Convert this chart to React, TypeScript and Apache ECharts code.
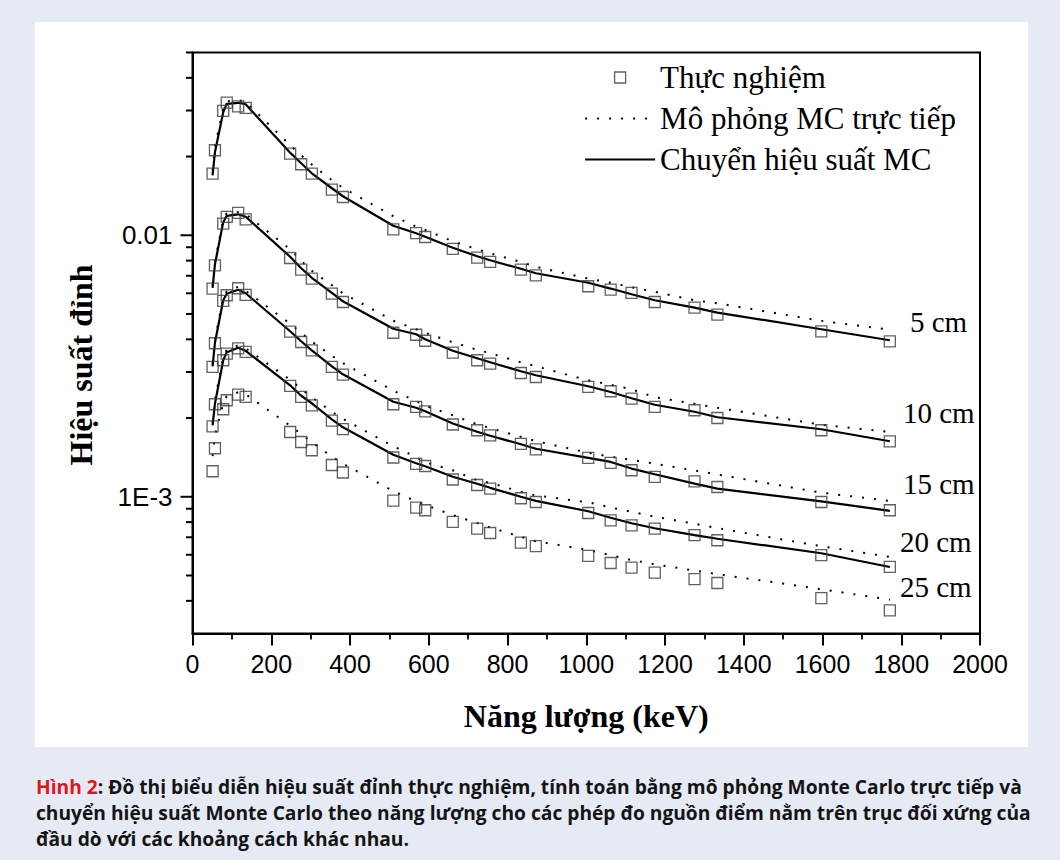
import React, { useEffect, useRef } from 'react';
import * as echarts from 'echarts';

// Energy of each measured peak (keV)
const energies = [51, 57, 78, 87, 116, 135, 248, 276, 303, 354, 382, 510, 568, 591, 661, 723, 756, 834, 872, 1005, 1062, 1115, 1174, 1275, 1333, 1597, 1771];

// 5 cm
const exp5 = [0.01722, 0.02114, 0.02988, 0.03217, 0.03114, 0.03068, 0.02053, 0.01869, 0.01722, 0.01495, 0.01401, 0.01054, 0.0102, 0.009851, 0.008864, 0.008217, 0.007905, 0.007393, 0.007031, 0.006383, 0.0062, 0.006017, 0.005558, 0.005291, 0.004975, 0.004294, 0.003932];
const transfer5 = [0.01696, 0.02077, 0.02954, 0.03183, 0.03211, 0.03169, 0.02068, 0.01885, 0.01726, 0.01513, 0.0141, 0.01087, 0.01018, 0.009869, 0.008958, 0.008312, 0.008024, 0.007445, 0.007156, 0.006583, 0.006255, 0.005949, 0.005642, 0.005291, 0.005063, 0.004371, 0.003967];
const direct5 = [0.01772, 0.0219, 0.0306, 0.03254, 0.03283, 0.0324, 0.02209, 0.02023, 0.01865, 0.01624, 0.01518, 0.01183, 0.0108, 0.01048, 0.009486, 0.008841, 0.008535, 0.007905, 0.007578, 0.00683, 0.006583, 0.006327, 0.006076, 0.005642, 0.005495, 0.004706, 0.004359];

// 10 cm
const exp10 = [0.006255, 0.007678, 0.01108, 0.01175, 0.01217, 0.01151, 0.008188, 0.007393, 0.00683, 0.005985, 0.005558, 0.004238, 0.004164, 0.00395, 0.00356, 0.003327, 0.003231, 0.002974, 0.002871, 0.00263, 0.002532, 0.002374, 0.002205, 0.002142, 0.002001, 0.001796, 0.00163];
const transfer10 = [0.006299, 0.007746, 0.01121, 0.01187, 0.01203, 0.01177, 0.008275, 0.007478, 0.006878, 0.006027, 0.005592, 0.00439, 0.004182, 0.004002, 0.003617, 0.003385, 0.003268, 0.003019, 0.002915, 0.002646, 0.002516, 0.002381, 0.002248, 0.002114, 0.002014, 0.001812, 0.00163];
const direct10 = [0.006439, 0.007953, 0.01151, 0.01214, 0.01225, 0.01203, 0.008841, 0.007988, 0.007315, 0.006439, 0.006001, 0.00471, 0.004371, 0.004238, 0.003898, 0.003649, 0.003538, 0.003268, 0.003155, 0.002789, 0.002681, 0.002577, 0.002402, 0.002268, 0.00219, 0.001885, 0.001769];

// 15 cm
const exp15 = [0.003136, 0.003864, 0.005617, 0.005896, 0.006271, 0.005912, 0.004283, 0.003908, 0.003632, 0.003136, 0.002932, 0.002258, 0.002205, 0.00212, 0.00189, 0.001796, 0.001718, 0.001592, 0.001519, 0.001408, 0.001347, 0.001263, 0.001191, 0.001146, 0.00109, 0.000955, 0.000888];
const transfer15 = [0.003155, 0.003881, 0.005642, 0.005975, 0.006189, 0.006001, 0.004294, 0.003932, 0.003632, 0.003155, 0.00294, 0.002309, 0.00219, 0.002123, 0.001905, 0.001772, 0.001711, 0.001588, 0.001526, 0.001408, 0.001359, 0.001282, 0.001219, 0.001123, 0.001075, 0.000961, 0.000883];
const direct15 = [0.00324, 0.004002, 0.005793, 0.006108, 0.006355, 0.006135, 0.004588, 0.004238, 0.003922, 0.003461, 0.003245, 0.002543, 0.002323, 0.002229, 0.002049, 0.001893, 0.001831, 0.001695, 0.001633, 0.001474, 0.001423, 0.001383, 0.001338, 0.00126, 0.001217, 0.001037, 0.000964];

// 20 cm
const exp20 = [0.00186, 0.002258, 0.003327, 0.003528, 0.003697, 0.003579, 0.002657, 0.002408, 0.002235, 0.001956, 0.001815, 0.001413, 0.001335, 0.001311, 0.001164, 0.001109, 0.001075, 0.000987, 0.000955, 0.000867, 0.000813, 0.000778, 0.000756, 0.000713, 0.000682, 0.000598, 0.000539];
const transfer20 = [0.001877, 0.002268, 0.003327, 0.003569, 0.003713, 0.003617, 0.002669, 0.002434, 0.002278, 0.001978, 0.001844, 0.001448, 0.001344, 0.001308, 0.001193, 0.001121, 0.001082, 0.001, 0.000965, 0.00088, 0.000831, 0.000792, 0.000758, 0.000713, 0.000691, 0.000608, 0.000539];
const direct20 = [0.001927, 0.002339, 0.00343, 0.003649, 0.003796, 0.003697, 0.002801, 0.002588, 0.002402, 0.002114, 0.001987, 0.00156, 0.001419, 0.001355, 0.001263, 0.001156, 0.001131, 0.001045, 0.001011, 0.000953, 0.00091, 0.000876, 0.000839, 0.000789, 0.000759, 0.000647, 0.000589];

// 25 cm
const exp25 = [0.001252, 0.001533, 0.002161, 0.002339, 0.002459, 0.002408, 0.001769, 0.00162, 0.001506, 0.001323, 0.001238, 0.000967, 0.000909, 0.000888, 0.000801, 0.000756, 0.000727, 0.000668, 0.000648, 0.000594, 0.000558, 0.000536, 0.000513, 0.000484, 0.000468, 0.00041, 0.000368];
const direct25 = [0.001429, 0.001718, 0.002278, 0.002423, 0.00251, 0.002466, 0.00187, 0.001737, 0.001619, 0.001423, 0.00134, 0.001052, 0.000959, 0.00093, 0.000851, 0.000793, 0.000763, 0.000703, 0.000676, 0.000626, 0.000598, 0.000573, 0.000552, 0.000522, 0.000506, 0.000443, 0.000404];

const distanceLabels = ['5 cm', '10 cm', '15 cm', '20 cm', '25 cm'];
const yMajorTicks = [0.001, 0.01];
const yMinorTicks = [0.0004, 0.0005, 0.0006, 0.0007, 0.0008, 0.0009, 0.002, 0.003, 0.004, 0.005, 0.006, 0.007, 0.008, 0.009, 0.02, 0.03, 0.04, 0.05];

const EXP = 'Thực nghiệm';
const DIRECT = 'Mô phỏng MC trực tiếp';
const TRANSFER = 'Chuyển hiệu suất MC';

const groups = [
  { exp: exp5, direct: direct5, transfer: transfer5 },
  { exp: exp10, direct: direct10, transfer: transfer10 },
  { exp: exp15, direct: direct15, transfer: transfer15 },
  { exp: exp20, direct: direct20, transfer: transfer20 },
  { exp: exp25, direct: direct25, transfer: null as number[] | null },
];

const labelPos = [
  { x: 910, y: 322 },
  { x: 903, y: 413 },
  { x: 903, y: 484 },
  { x: 900, y: 542 },
  { x: 900, y: 587 },
];

const SERIF = 'Liberation Serif, Times New Roman, serif';
const SANS = 'Liberation Sans, Arial, sans-serif';
const CAPTION_FONT = 'Open Sans, Noto Sans, sans-serif';

export default function App() {
  const ref = useRef<HTMLDivElement>(null);

  useEffect(() => {
    const chart = echarts.init(ref.current!, null, { renderer: 'svg' });
    const pairs = (arr: number[]) => energies.map((e, i) => [e, arr[i]]);

    const series: any[] = [];
    groups.forEach((g, gi) => {
      series.push({
        type: 'line', name: DIRECT, id: 'direct' + gi, data: pairs(g.direct),
        symbol: 'none', silent: true, z: 2,
        itemStyle: { color: '#000' },
        lineStyle: { color: '#000', width: 2, type: [2, 10], cap: 'butt' },
      });
      if (g.transfer) {
        series.push({
          type: 'line', name: TRANSFER, id: 'transfer' + gi, data: pairs(g.transfer),
          symbol: 'none', silent: true, z: 2,
          itemStyle: { color: '#000' },
          lineStyle: { color: '#000', width: 2.2 },
        });
      }
      series.push({
        type: 'scatter', name: EXP, id: 'exp' + gi, data: pairs(g.exp),
        symbol: 'rect', symbolSize: 11, silent: true, z: 3,
        itemStyle: { color: 'rgba(0,0,0,0)', borderColor: '#3a3a3a', borderWidth: 1.3 },
      });
    });

    const hiddenSymbol = { color: 'rgba(0,0,0,0)', borderColor: 'rgba(0,0,0,0)', borderWidth: 0, opacity: 0 };

    const option: any = {
      animation: false,
      backgroundColor: '#e6eaf5',
      grid: { left: 192.5, right: 80, top: 52.5, bottom: 226.5, show: true, borderColor: '#000', borderWidth: 2, backgroundColor: 'rgba(0,0,0,0)' },
      xAxis: {
        type: 'value', min: 0, max: 2000, interval: 200,
        axisLine: { lineStyle: { color: '#000', width: 2 } },
        axisTick: { length: 12, lineStyle: { color: '#000', width: 2 } },
        minorTick: { show: true, splitNumber: 2, length: 6, lineStyle: { color: '#000', width: 1.8 } },
        splitLine: { show: false },
        axisLabel: { fontSize: 25, fontFamily: SANS, color: '#000', margin: 18, formatter: (v: number) => String(v) },
        name: 'Năng lượng (keV)', nameLocation: 'middle', nameGap: 66,
        nameTextStyle: { fontFamily: SERIF, fontWeight: 'bold', fontSize: 32, color: '#000' },
      },
      yAxis: {
        type: 'log', logBase: 10, min: 0.0003, max: 0.05,
        axisLine: { show: true, lineStyle: { color: '#000', width: 2 } },
        axisTick: { show: false },
        splitLine: { show: false },
        axisLabel: {
          fontSize: 26, fontFamily: SANS, color: '#000', margin: 20,
          formatter: (v: number) => {
            const l = Math.log10(v);
            if (Math.abs(l + 2) < 0.01) return '0.01';
            if (Math.abs(l + 3) < 0.01) return '1E-3';
            return '';
          },
        },
      },
      legend: {
        orient: 'vertical', left: 584, top: 62, padding: 0, itemWidth: 70, itemHeight: 11, itemGap: 10,
        selectedMode: false,
        textStyle: { fontFamily: SERIF, fontSize: 31, color: '#000', lineHeight: 30 },
        data: [
          { name: EXP, icon: 'path://M0,0L10,0L10,10L0,10Z', itemStyle: { color: 'rgba(0,0,0,0)', borderColor: '#3a3a3a', borderWidth: 1.3 } },
          { name: DIRECT, itemStyle: hiddenSymbol, lineStyle: { type: [2, 10], width: 2, color: '#000' } },
          { name: TRANSFER, itemStyle: hiddenSymbol, lineStyle: { type: 'solid', width: 2.2, color: '#000' } },
        ],
      },
      series,
    };

    chart.setOption(option);

    const graphic: any[] = [];
    graphic.push({
      type: 'rect', id: 'panel', z: -100, silent: true,
      shape: { x: 35, y: 22, width: 993, height: 725 },
      style: { fill: '#ffffff' },
    });

    // y axis ticks (log scale) positioned through the axis
    const tick = (v: number, len: number, id: string) => {
      const p = chart.convertToPixel({ xAxisIndex: 0, yAxisIndex: 0 }, [0, v]) as number[];
      graphic.push({
        type: 'line', id, silent: true, z: 5,
        shape: { x1: p[0] - len, y1: p[1], x2: p[0], y2: p[1] },
        style: { stroke: '#000', lineWidth: 2 },
      });
    };
    yMajorTicks.forEach((v, i) => tick(v, 12, 'maj' + i));
    yMinorTicks.forEach((v, i) => tick(v, 6.5, 'min' + i));

    // y axis title
    graphic.push({
      type: 'text', id: 'ytitle', x: 81, y: 365, rotation: Math.PI / 2, silent: true,
      style: { text: 'Hiệu suất đỉnh', fill: '#000', fontSize: 32, fontFamily: SERIF, fontWeight: 'bold', align: 'center', verticalAlign: 'middle' },
    });

    // distance labels
    distanceLabels.forEach((t, i) => {
      graphic.push({
        type: 'text', id: 'dl' + i, x: labelPos[i].x, y: labelPos[i].y, silent: true, z: 6,
        style: { text: t, fill: '#000', fontSize: 29, fontFamily: SERIF, align: 'left', verticalAlign: 'middle' },
      });
    });

    // caption
    const capLines = [
      '{r|Hình 2}: Đồ thị biểu diễn hiệu suất đỉnh thực nghiệm, tính toán bằng mô phỏng Monte Carlo trực tiếp và',
      'chuyển hiệu suất Monte Carlo theo năng lượng cho các phép đo nguồn điểm nằm trên trục đối xứng của',
      'đầu dò với các khoảng cách khác nhau.',
    ];
    capLines.forEach((t, i) => {
      graphic.push({
        type: 'text', id: 'cap' + i, x: 36, y: 786 + i * 26, scaleX: 0.96, silent: true,
        style: {
          text: t, fill: '#141414', fontSize: 20, fontFamily: CAPTION_FONT, fontWeight: 'bold',
          align: 'left', verticalAlign: 'middle',
          rich: { r: { fill: '#e3141b', fontSize: 20, fontFamily: CAPTION_FONT, fontWeight: 'bold' } },
        },
      });
    });

    chart.setOption({ graphic });

    return () => chart.dispose();
  }, []);

  return <div ref={ref} style={{ position: 'fixed', left: 0, top: 0, width: 1060, height: 860 }} />;
}
